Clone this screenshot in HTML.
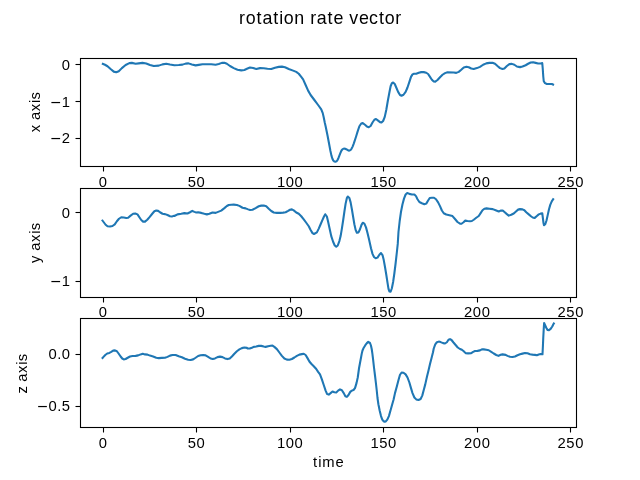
<!DOCTYPE html>
<html><head><meta charset="utf-8"><title>rotation rate vector</title>
<style>html,body{margin:0;padding:0;background:#fff;}body{width:640px;height:480px;overflow:hidden;font-family:"Liberation Sans",sans-serif;}svg{display:block;will-change:transform;}text{font-family:"Liberation Sans",sans-serif;fill:#000;}</style>
</head><body>
<svg width="640" height="480" viewBox="0 0 640 480">
<rect x="0" y="0" width="640" height="480" fill="#ffffff"/>
<text transform="translate(238.66,23.90) scale(1.02,1)" font-size="17.5" x="0.44 6.85 17.49 23.27 33.91 39.88 44.23 54.41 64.46 70.10 76.52 87.16 92.96 102.85 108.51 117.88 127.89 137.53 143.30 153.61" y="0">rotation rate vector</text>
<clipPath id="c0"><rect x="80.5" y="58.5" width="496.0" height="108.0"/></clipPath>
<path d="M101.88,63.50 L105.00,64.75 L107.50,66.25 L110.62,69.00 L113.75,71.62 L116.25,72.25 L118.75,71.25 L121.88,68.12 L125.62,65.00 L129.38,63.12 L131.88,62.88 L135.62,63.75 L138.75,63.38 L142.50,62.88 L146.25,63.50 L150.00,65.00 L153.75,66.00 L158.75,65.62 L162.50,64.38 L166.25,63.75 L170.00,64.50 L174.38,65.25 L178.75,65.00 L182.50,64.62 L185.62,63.62 L188.50,63.38 L191.88,64.50 L195.62,65.38 L198.75,64.88 L202.50,64.25 L207.50,64.25 L211.25,64.25 L215.62,64.75 L218.75,64.00 L221.88,62.88 L224.38,62.75 L226.88,63.75 L230.00,66.00 L233.75,68.12 L237.50,69.75 L241.25,70.38 L244.38,70.00 L247.50,68.50 L250.00,67.50 L253.12,68.00 L256.25,69.00 L260.00,68.12 L263.75,68.25 L267.50,68.75 L271.25,69.00 L275.00,67.75 L278.75,66.88 L281.88,66.62 L285.00,67.25 L288.75,69.00 L293.12,70.62 L296.25,71.88 L298.75,73.75 L301.25,76.88 L303.12,79.38 L305.62,85.00 L308.12,90.62 L310.62,95.00 L314.38,100.00 L318.12,105.00 L321.25,109.38 L322.75,113.12 L323.75,117.50 L324.75,122.50 L325.62,126.25 L327.62,136.00 L328.56,141.00 L329.50,146.00 L330.44,151.00 L331.38,155.38 L332.31,158.50 L333.25,160.50 L334.38,161.50 L335.44,161.75 L336.50,161.31 L337.50,160.06 L338.38,158.19 L339.38,155.69 L340.44,152.88 L341.50,150.50 L342.62,149.12 L343.88,148.62 L345.25,148.81 L346.69,149.44 L347.94,150.25 L349.19,150.69 L350.44,150.06 L351.50,148.81 L352.62,146.62 L353.56,144.12 L354.50,141.31 L355.44,138.50 L356.25,136.00 L357.50,131.88 L359.38,126.25 L361.25,123.50 L362.75,123.12 L365.00,124.75 L366.88,126.50 L368.75,127.25 L370.62,126.00 L372.50,122.50 L374.38,119.75 L376.00,119.00 L378.12,120.62 L380.00,122.12 L381.50,122.50 L383.12,121.00 L384.75,116.88 L386.25,110.00 L387.75,101.25 L389.38,92.50 L390.62,86.25 L391.88,83.12 L393.12,82.50 L394.75,84.00 L396.25,87.50 L398.12,91.88 L400.00,95.00 L401.50,95.75 L403.50,94.75 L405.62,91.88 L407.50,87.50 L409.38,81.88 L411.00,76.88 L412.50,74.38 L414.00,73.75 L416.25,73.75 L418.75,72.75 L421.25,72.12 L423.75,72.12 L426.25,72.75 L428.12,74.00 L430.00,76.88 L431.88,79.75 L433.75,81.50 L435.25,81.62 L437.50,80.00 L440.00,77.25 L442.50,74.75 L445.00,73.12 L447.50,72.25 L453.75,72.50 L456.25,72.88 L458.75,71.88 L461.25,69.75 L463.75,67.50 L466.50,66.75 L468.75,67.25 L471.25,68.50 L473.75,69.00 L476.88,68.12 L480.00,66.88 L483.12,64.75 L486.25,63.38 L489.38,62.88 L492.50,62.75 L495.00,63.75 L497.50,66.00 L500.00,68.12 L502.50,69.00 L504.38,68.50 L506.88,66.00 L509.38,64.12 L511.88,63.88 L514.38,64.75 L516.88,66.50 L520.00,67.12 L522.50,66.50 L525.62,65.25 L528.12,63.75 L530.62,62.50 L533.12,62.25 L535.62,62.88 L538.12,63.50 L540.62,63.50 L542.25,63.12 L542.75,68.75 L543.25,76.25 L543.75,81.25 L545.00,83.12 L546.88,84.00 L549.38,84.00 L551.88,84.00 L554.00,85.00" fill="none" stroke="#1f77b4" stroke-width="2.08" stroke-linejoin="round" stroke-linecap="butt" clip-path="url(#c0)"/>
<rect x="80.5" y="58.5" width="496.0" height="108.0" fill="none" stroke="#000" stroke-width="1.1"/>
<line x1="103.5" y1="166.5" x2="103.5" y2="171.5" stroke="#000" stroke-width="1.1"/>
<text transform="translate(98.33,187.00) scale(1.05,1)" font-size="14.1" x="0.29" y="0">0</text>
<line x1="196.5" y1="166.5" x2="196.5" y2="171.5" stroke="#000" stroke-width="1.1"/>
<text transform="translate(187.46,187.00) scale(1.05,1)" font-size="14.1" x="0.29 8.70" y="0">50</text>
<line x1="290.5" y1="166.5" x2="290.5" y2="171.5" stroke="#000" stroke-width="1.1"/>
<text transform="translate(276.59,187.00) scale(1.05,1)" font-size="14.1" x="0.29 8.70 17.11" y="0">100</text>
<line x1="383.5" y1="166.5" x2="383.5" y2="171.5" stroke="#000" stroke-width="1.1"/>
<text transform="translate(370.14,187.00) scale(1.05,1)" font-size="14.1" x="0.29 8.70 17.11" y="0">150</text>
<line x1="477.5" y1="166.5" x2="477.5" y2="171.5" stroke="#000" stroke-width="1.1"/>
<text transform="translate(463.69,187.00) scale(1.05,1)" font-size="14.1" x="0.29 8.70 17.11" y="0">200</text>
<line x1="570.5" y1="166.5" x2="570.5" y2="171.5" stroke="#000" stroke-width="1.1"/>
<text transform="translate(557.24,187.00) scale(1.05,1)" font-size="14.1" x="0.29 8.70 17.11" y="0">250</text>
<line x1="75.5" y1="64.5" x2="80.5" y2="64.5" stroke="#000" stroke-width="1.1"/>
<text transform="translate(61.57,70.00) scale(1.05,1)" font-size="14.1" x="0.29" y="0">0</text>
<line x1="75.5" y1="101.5" x2="80.5" y2="101.5" stroke="#000" stroke-width="1.1"/>
<rect x="51.40" y="101.95" width="8.7" height="1.2" fill="#000"/>
<text transform="translate(61.57,107.00) scale(1.05,1)" font-size="14.1" x="0.29" y="0">1</text>
<line x1="75.5" y1="138.5" x2="80.5" y2="138.5" stroke="#000" stroke-width="1.1"/>
<rect x="51.40" y="137.95" width="8.7" height="1.2" fill="#000"/>
<text transform="translate(61.57,143.00) scale(1.05,1)" font-size="14.1" x="0.29" y="0">2</text>
<g transform="translate(40.3,112.50) rotate(-90)"><text transform="translate(-20.24,0.00) scale(1.02,1)" font-size="14.5" x="0.41 8.06 12.53 21.15 29.08 32.51" y="0">x axis</text></g>
<clipPath id="c1"><rect x="80.5" y="188.5" width="496.0" height="109.0"/></clipPath>
<path d="M101.88,219.75 L103.75,222.25 L105.62,224.75 L107.50,226.25 L110.00,226.50 L112.50,226.00 L114.75,224.38 L116.88,221.25 L119.00,218.75 L121.25,217.25 L123.75,217.50 L126.25,218.00 L128.12,217.75 L130.62,215.62 L133.12,213.75 L135.25,213.50 L137.50,214.38 L139.38,217.25 L141.25,220.00 L143.12,221.62 L145.00,221.62 L147.25,219.75 L149.75,216.88 L152.25,213.75 L154.38,211.25 L156.25,210.50 L158.12,210.88 L160.00,212.25 L162.50,213.75 L165.00,214.12 L167.50,215.00 L170.00,216.25 L171.88,216.50 L173.75,215.88 L174.38,216.00 L177.50,214.38 L181.25,213.75 L184.38,213.12 L187.50,213.50 L190.00,212.25 L192.25,210.88 L194.38,211.88 L196.25,212.50 L198.12,212.25 L201.25,212.88 L204.38,213.75 L206.88,214.38 L209.38,213.75 L212.50,212.50 L215.62,212.88 L218.12,211.88 L221.25,210.62 L224.38,208.12 L226.88,206.00 L228.75,205.00 L231.25,204.75 L233.75,204.62 L236.88,205.00 L239.38,205.88 L242.50,207.75 L245.62,208.38 L248.12,209.38 L250.00,210.00 L252.50,209.75 L255.62,208.12 L258.75,206.25 L261.25,205.62 L263.75,205.50 L266.25,206.25 L268.75,208.75 L271.25,211.00 L273.75,212.50 L276.88,212.88 L280.00,212.88 L283.12,212.62 L285.62,212.25 L288.12,210.88 L290.00,209.75 L291.88,209.38 L293.75,210.38 L296.25,212.50 L298.75,213.75 L301.25,216.25 L303.75,219.38 L306.25,222.75 L308.75,226.25 L310.62,230.00 L312.50,233.12 L314.00,234.00 L316.88,232.38 L318.75,228.62 L320.62,224.25 L322.50,219.88 L324.00,216.50 L325.25,214.25 L326.88,216.50 L328.12,221.75 L329.75,229.25 L331.25,236.12 L333.12,241.75 L334.75,245.50 L336.25,246.75 L337.75,245.50 L339.38,241.12 L340.62,236.12 L341.88,228.62 L343.12,220.50 L344.38,211.75 L345.62,203.62 L346.88,198.00 L347.75,196.50 L349.38,198.00 L350.62,202.38 L351.88,209.25 L353.12,216.75 L354.38,224.25 L355.62,229.88 L356.88,232.75 L358.50,232.38 L360.00,229.25 L361.50,224.88 L362.75,222.75 L364.38,223.62 L366.00,227.38 L367.50,233.00 L369.00,239.25 L371.00,248.25 L372.50,253.88 L374.00,257.00 L375.62,258.25 L377.50,257.62 L379.38,254.75 L381.00,253.00 L382.50,255.12 L383.75,260.12 L385.00,267.00 L386.25,274.50 L387.50,282.62 L388.50,288.88 L389.38,291.38 L390.62,291.62 L391.88,288.25 L393.12,282.00 L394.38,273.25 L395.62,263.25 L396.88,252.00 L397.75,243.88 L398.50,231.75 L399.75,220.50 L401.00,211.75 L402.50,204.25 L404.00,198.62 L405.62,194.50 L407.25,193.00 L409.38,193.88 L411.88,194.50 L414.38,194.50 L416.00,196.12 L417.50,199.25 L419.38,202.00 L421.88,203.25 L424.38,204.25 L426.25,203.62 L428.12,200.50 L429.75,198.00 L431.88,197.75 L434.00,197.75 L436.00,199.25 L438.12,202.38 L440.00,206.12 L441.88,210.50 L443.75,213.25 L446.25,214.50 L449.38,215.25 L452.50,216.12 L455.00,219.00 L457.50,222.00 L460.00,223.62 L461.50,223.75 L463.50,222.25 L465.25,220.62 L467.50,221.00 L470.00,221.25 L471.88,221.00 L473.75,219.75 L476.25,217.75 L478.75,216.00 L480.62,213.12 L482.50,210.25 L484.38,208.75 L486.50,208.38 L489.38,208.75 L492.75,209.12 L495.62,210.25 L498.75,211.50 L500.62,210.62 L502.75,210.50 L504.75,212.25 L506.88,214.12 L508.75,215.62 L511.25,214.75 L513.75,213.50 L516.25,211.25 L518.12,209.62 L520.00,209.12 L522.50,209.38 L524.38,210.25 L526.25,212.25 L528.75,214.38 L531.25,216.50 L533.12,217.75 L534.75,217.88 L536.88,216.00 L538.75,214.38 L540.62,213.62 L542.25,213.25 L542.88,218.00 L543.50,223.00 L544.00,225.25 L545.25,224.25 L546.50,220.50 L547.75,214.88 L549.00,209.25 L550.25,204.88 L551.88,201.12 L553.75,198.38" fill="none" stroke="#1f77b4" stroke-width="2.08" stroke-linejoin="round" stroke-linecap="butt" clip-path="url(#c1)"/>
<rect x="80.5" y="188.5" width="496.0" height="109.0" fill="none" stroke="#000" stroke-width="1.1"/>
<line x1="103.5" y1="297.5" x2="103.5" y2="302.5" stroke="#000" stroke-width="1.1"/>
<text transform="translate(98.33,317.00) scale(1.05,1)" font-size="14.1" x="0.29" y="0">0</text>
<line x1="196.5" y1="297.5" x2="196.5" y2="302.5" stroke="#000" stroke-width="1.1"/>
<text transform="translate(187.46,317.00) scale(1.05,1)" font-size="14.1" x="0.29 8.70" y="0">50</text>
<line x1="290.5" y1="297.5" x2="290.5" y2="302.5" stroke="#000" stroke-width="1.1"/>
<text transform="translate(276.59,317.00) scale(1.05,1)" font-size="14.1" x="0.29 8.70 17.11" y="0">100</text>
<line x1="383.5" y1="297.5" x2="383.5" y2="302.5" stroke="#000" stroke-width="1.1"/>
<text transform="translate(370.14,317.00) scale(1.05,1)" font-size="14.1" x="0.29 8.70 17.11" y="0">150</text>
<line x1="477.5" y1="297.5" x2="477.5" y2="302.5" stroke="#000" stroke-width="1.1"/>
<text transform="translate(463.69,317.00) scale(1.05,1)" font-size="14.1" x="0.29 8.70 17.11" y="0">200</text>
<line x1="570.5" y1="297.5" x2="570.5" y2="302.5" stroke="#000" stroke-width="1.1"/>
<text transform="translate(557.24,317.00) scale(1.05,1)" font-size="14.1" x="0.29 8.70 17.11" y="0">250</text>
<line x1="75.5" y1="212.5" x2="80.5" y2="212.5" stroke="#000" stroke-width="1.1"/>
<text transform="translate(61.57,218.00) scale(1.05,1)" font-size="14.1" x="0.29" y="0">0</text>
<line x1="75.5" y1="281.5" x2="80.5" y2="281.5" stroke="#000" stroke-width="1.1"/>
<rect x="51.40" y="280.95" width="8.7" height="1.2" fill="#000"/>
<text transform="translate(61.57,286.00) scale(1.05,1)" font-size="14.1" x="0.29" y="0">1</text>
<g transform="translate(40.3,243.25) rotate(-90)"><text transform="translate(-20.24,0.00) scale(1.02,1)" font-size="14.5" x="0.41 8.06 12.53 21.15 29.08 32.51" y="0">y axis</text></g>
<clipPath id="c2"><rect x="80.5" y="318.5" width="496.0" height="109.0"/></clipPath>
<path d="M101.88,358.75 L103.50,356.88 L105.25,355.00 L107.25,353.50 L109.38,352.88 L111.25,351.88 L113.12,350.62 L115.00,350.38 L116.88,351.25 L118.75,353.75 L120.62,356.50 L122.25,358.50 L123.75,359.38 L125.62,359.00 L127.75,357.75 L130.00,356.50 L132.50,356.00 L135.62,355.88 L138.12,355.38 L140.62,354.38 L142.75,353.75 L145.00,354.38 L147.50,354.62 L150.00,355.62 L153.12,356.50 L156.25,357.75 L158.75,358.12 L161.88,357.88 L165.00,357.75 L167.50,356.88 L170.00,355.62 L172.50,355.00 L175.62,355.00 L178.75,356.25 L181.88,357.25 L185.00,358.75 L188.12,359.75 L190.62,360.00 L193.12,359.38 L195.62,357.75 L198.12,356.00 L200.62,355.25 L203.12,355.00 L205.62,355.38 L208.12,356.88 L210.62,358.50 L212.75,359.00 L215.00,358.38 L217.50,357.12 L220.00,356.62 L222.50,357.12 L225.00,358.38 L227.50,359.12 L229.75,358.50 L231.88,356.50 L234.38,353.75 L236.88,351.25 L239.38,349.38 L241.88,348.12 L244.38,347.50 L246.88,347.88 L247.50,348.38 L249.75,348.50 L251.88,347.75 L253.75,346.88 L256.25,346.50 L258.75,345.88 L261.25,345.88 L263.75,346.50 L265.62,346.88 L268.12,346.25 L270.62,345.75 L272.50,345.62 L274.38,346.88 L276.88,349.12 L279.38,352.50 L281.88,355.88 L284.38,358.50 L286.88,359.62 L289.38,359.75 L291.88,359.00 L294.38,357.50 L296.88,355.88 L299.38,354.62 L301.88,354.12 L303.75,353.75 L305.62,355.00 L307.50,358.12 L309.38,361.50 L311.25,363.75 L313.75,366.25 L316.25,369.00 L318.12,371.88 L320.00,374.38 L321.88,379.38 L323.75,385.00 L325.62,390.62 L327.12,394.12 L328.75,394.62 L330.62,393.12 L332.50,391.50 L334.38,392.25 L336.25,392.50 L338.12,390.62 L340.00,389.38 L341.88,390.25 L343.75,393.12 L345.38,396.25 L346.88,396.88 L348.50,395.00 L350.25,391.88 L351.88,390.62 L353.50,390.00 L355.00,388.12 L356.50,383.12 L357.75,377.50 L359.06,368.00 L360.00,363.00 L360.94,358.00 L361.75,353.62 L362.50,350.50 L363.75,347.69 L365.31,345.19 L366.88,343.12 L368.25,341.88 L370.00,343.00 L370.94,345.50 L371.75,349.25 L372.38,353.62 L373.00,358.62 L374.06,368.00 L375.00,375.50 L375.90,383.00 L376.75,390.50 L377.50,398.00 L378.40,404.25 L379.65,410.50 L381.00,416.10 L382.30,419.60 L383.50,421.20 L384.75,421.80 L386.00,421.20 L387.30,419.60 L388.90,416.10 L390.50,410.50 L392.25,404.25 L393.60,399.50 L395.00,393.12 L396.88,386.25 L398.50,380.00 L400.00,374.75 L401.62,372.50 L403.50,372.75 L405.62,374.38 L407.50,377.50 L409.38,382.50 L411.00,388.12 L412.50,393.12 L414.38,397.50 L416.25,399.38 L418.50,400.00 L420.62,399.00 L422.25,395.62 L423.75,390.00 L425.25,384.38 L427.00,376.50 L428.50,370.40 L430.00,364.10 L431.50,358.30 L433.00,352.30 L433.75,348.50 L435.25,344.38 L436.88,342.25 L438.75,341.62 L440.62,342.12 L443.12,343.12 L445.00,343.50 L446.88,342.25 L448.50,339.75 L450.00,339.12 L451.50,340.00 L453.50,342.50 L455.62,345.00 L457.75,347.50 L460.00,349.00 L461.88,349.75 L463.75,351.25 L465.62,353.12 L468.12,353.38 L471.25,353.12 L473.12,351.88 L475.00,351.00 L477.50,350.88 L480.00,350.38 L481.88,349.38 L483.75,349.38 L486.25,349.75 L488.75,350.25 L491.25,351.88 L493.75,353.50 L496.25,355.00 L498.50,355.88 L500.62,354.75 L502.50,354.38 L505.62,354.88 L507.50,355.88 L510.00,356.75 L512.50,357.00 L515.00,356.50 L517.50,355.25 L520.00,354.25 L522.50,353.62 L525.00,353.00 L527.50,353.25 L530.00,354.25 L532.50,354.62 L535.00,354.88 L536.88,355.25 L538.75,354.50 L540.62,354.00 L542.50,354.25 L542.88,346.75 L543.25,338.00 L543.75,328.62 L544.12,323.00 L545.00,324.88 L546.25,327.75 L547.50,329.88 L549.00,330.12 L550.62,328.88 L552.25,326.50 L553.50,324.00 L554.38,322.62" fill="none" stroke="#1f77b4" stroke-width="2.08" stroke-linejoin="round" stroke-linecap="butt" clip-path="url(#c2)"/>
<rect x="80.5" y="318.5" width="496.0" height="109.0" fill="none" stroke="#000" stroke-width="1.1"/>
<line x1="103.5" y1="427.5" x2="103.5" y2="432.5" stroke="#000" stroke-width="1.1"/>
<text transform="translate(98.33,448.00) scale(1.05,1)" font-size="14.1" x="0.29" y="0">0</text>
<line x1="196.5" y1="427.5" x2="196.5" y2="432.5" stroke="#000" stroke-width="1.1"/>
<text transform="translate(187.46,448.00) scale(1.05,1)" font-size="14.1" x="0.29 8.70" y="0">50</text>
<line x1="290.5" y1="427.5" x2="290.5" y2="432.5" stroke="#000" stroke-width="1.1"/>
<text transform="translate(276.59,448.00) scale(1.05,1)" font-size="14.1" x="0.29 8.70 17.11" y="0">100</text>
<line x1="383.5" y1="427.5" x2="383.5" y2="432.5" stroke="#000" stroke-width="1.1"/>
<text transform="translate(370.14,448.00) scale(1.05,1)" font-size="14.1" x="0.29 8.70 17.11" y="0">150</text>
<line x1="477.5" y1="427.5" x2="477.5" y2="432.5" stroke="#000" stroke-width="1.1"/>
<text transform="translate(463.69,448.00) scale(1.05,1)" font-size="14.1" x="0.29 8.70 17.11" y="0">200</text>
<line x1="570.5" y1="427.5" x2="570.5" y2="432.5" stroke="#000" stroke-width="1.1"/>
<text transform="translate(557.24,448.00) scale(1.05,1)" font-size="14.1" x="0.29 8.70 17.11" y="0">250</text>
<line x1="75.5" y1="354.5" x2="80.5" y2="354.5" stroke="#000" stroke-width="1.1"/>
<text transform="translate(48.31,359.00) scale(1.05,1)" font-size="14.1" x="0.29 8.56 12.91" y="0">0.0</text>
<line x1="75.5" y1="406.5" x2="80.5" y2="406.5" stroke="#000" stroke-width="1.1"/>
<rect x="38.15" y="405.95" width="8.7" height="1.2" fill="#000"/>
<text transform="translate(48.32,411.00) scale(1.05,1)" font-size="14.1" x="0.29 8.56 12.91" y="0">0.5</text>
<g transform="translate(27.3,373.80) rotate(-90)"><text transform="translate(-19.77,0.00) scale(1.02,1)" font-size="14.5" x="-0.05 7.15 11.62 20.23 28.17 31.60" y="0">z axis</text></g>
<text transform="translate(312.41,466.90) scale(1.02,1)" font-size="14.5" x="0.65 5.62 9.72 22.54" y="0">time</text>
</svg></body></html>
